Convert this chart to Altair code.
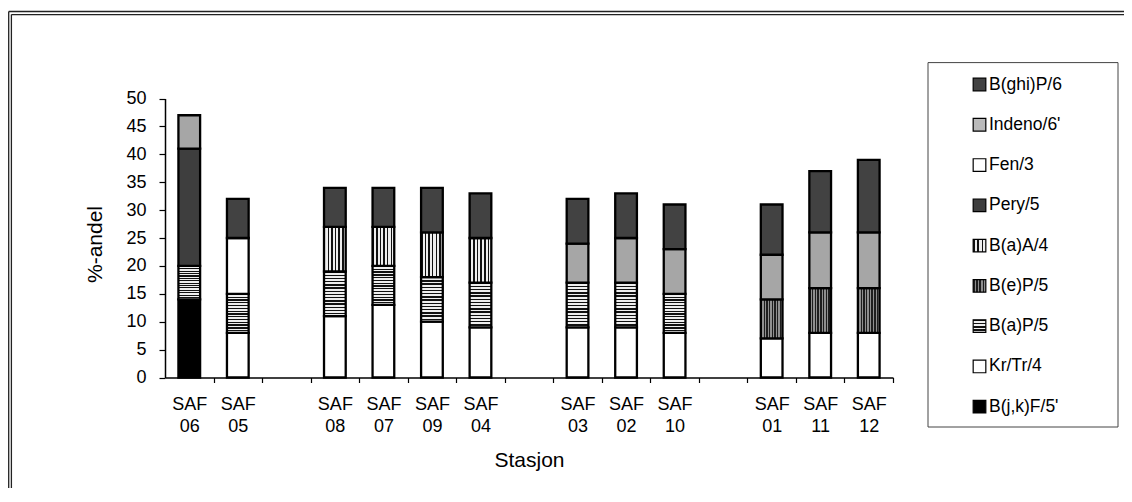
import altair as alt
import pandas as pd

# ---------------- data ----------------
x_domain = ["SAF 06", "SAF 05", " ", "SAF 08", "SAF 07", "SAF 09", "SAF 04", "  ",
            "SAF 03", "SAF 02", "SAF 10", "   ", "SAF 01", "SAF 11", "SAF 12"]
stations = ["SAF 06", "SAF 05", "SAF 08", "SAF 07", "SAF 09", "SAF 04",
            "SAF 03", "SAF 02", "SAF 10", "SAF 01", "SAF 11", "SAF 12"]

# stacking order, bottom -> top
series = ["B(j,k)F/5'", "Kr/Tr/4", "B(a)P/5", "B(e)P/5", "B(a)A/4",
          "Pery/5", "Fen/3", "Indeno/6'", "B(ghi)P/6"]

bjkf   = [14, 0, 0, 0, 0, 0, 0, 0, 0, 0, 0, 0]
krtr   = [0, 8, 11, 13, 10, 9, 9, 9, 8, 7, 8, 8]
bap    = [6, 7, 8, 7, 8, 8, 8, 8, 7, 0, 0, 0]
bep    = [0, 0, 0, 0, 0, 0, 0, 0, 0, 7, 8, 8]
baa    = [0, 0, 8, 7, 8, 8, 0, 0, 0, 0, 0, 0]
pery   = [21, 0, 0, 0, 0, 0, 0, 0, 0, 0, 0, 0]
fen    = [0, 10, 0, 0, 0, 0, 0, 0, 0, 0, 0, 0]
indeno = [6, 0, 0, 0, 0, 0, 7, 8, 8, 8, 10, 10]
bghip  = [0, 7, 7, 7, 8, 8, 8, 8, 8, 9, 11, 13]
all_vals = [bjkf, krtr, bap, bep, baa, pery, fen, indeno, bghip]

rows = []
for k, (s, vals) in enumerate(zip(series, all_vals)):
    for st, v in zip(stations, vals):
        if v > 0:
            rows.append({"station": st, "series": s, "k": k, "value": v})
df = pd.DataFrame(rows)

legend_df = pd.DataFrame({"series": series, "k": list(range(len(series)))})
legend_order = list(reversed(series))

# ---------------- styles ----------------
FONT = "Liberation Sans"
W, H = 1116, 480
X0, X1 = 157, 885          # plot extent (px)
Y0, Y50 = 369.5, 90.5      # y pixel for 0 and 50
P_IN, P_OUT = 0.553, 0.2765
STEP = (X1 - X0) / (len(x_domain) - P_IN + 2 * P_OUT)
TICK_OFF = P_OUT * STEP


def stripes(n, c_line, c_gap, direction, duty):
    stops = []
    for i in range(n):
        a = round(i / n, 4)
        b = round((i + duty) / n, 4)
        c = round((i + 1) / n, 4)
        stops += [{"offset": a, "color": c_line}, {"offset": b, "color": c_line},
                  {"offset": b, "color": c_gap}, {"offset": c, "color": c_gap}]
    g = {"gradient": "linear", "stops": stops}
    if direction == "v":
        g.update({"x1": 0, "y1": 0, "x2": 1, "y2": 0})
    else:
        g.update({"x1": 0, "y1": 0, "x2": 0, "y2": 1})
    return g


FILL_BAR = ["black", "white",
            stripes(14, "#111111", "#eeeeee", "h", 0.45),
            stripes(8, "#1e1e1e", "#8f8f8f", "v", 0.5),
            stripes(6, "#111111", "#eeeeee", "v", 0.4),
            "#3e3e3e", "white", "#a6a6a6", "#424242"]
FILL_LEG = ["black", "white",
            stripes(4, "#111111", "#eeeeee", "h", 0.45),
            stripes(4, "#1e1e1e", "#8f8f8f", "v", 0.5),
            stripes(3, "#111111", "#eeeeee", "v", 0.4),
            "#3e3e3e", "white", "#bababa", "#424242"]


def fill_enc(fills):
    return {"condition": [{"test": f"datum.k === {k}", "value": fills[k]}
                          for k in range(1, len(fills))],
            "value": fills[0]}


# ---------------- bars ----------------
bars = alt.Chart(df).transform_stack(
    stack="value", groupby=["station"], as_=["y0", "y1"],
    sort=[alt.SortField("k", order="ascending")]
).mark_bar(stroke="black", strokeWidth=2.3).encode(
    x=alt.X("station:N",
            scale=alt.Scale(domain=x_domain, range=[X0, X1],
                            paddingInner=P_IN, paddingOuter=P_OUT),
            axis=alt.Axis(
                title="Stasjon", orient="bottom", offset=-(H - Y0),
                domainColor="black", domainWidth=1.5,
                ticks=True, tickColor="black", tickWidth=1.2, tickSize=5,
                bandPosition=1, tickOffset=TICK_OFF, labelOffset=-TICK_OFF,
                labelExpr="trim(datum.value) == '' ? '' : [substring(datum.value, 0, 3), substring(datum.value, 4)]",
                labelFont=FONT, labelFontSize=18, labelColor="black",
                labelBaseline="alphabetic", labelPadding=26.8, labelLineHeight=22.7,
                labelAngle=0, labelOverlap=False,
                titleFont=FONT, titleFontSize=21, titleFontWeight="normal",
                titleColor="black", titleBaseline="alphabetic", titleY=89.2,
                grid=False)),
    y=alt.Y("y0:Q",
            scale=alt.Scale(domain=[0, 50], range=[Y0, Y50], nice=False, zero=True),
            axis=alt.Axis(
                title="%-andel", values=list(range(0, 51, 5)), offset=-X0,
                domainColor="black", domainWidth=1.5,
                tickColor="black", tickWidth=1.2, tickSize=6,
                labelFont=FONT, labelFontSize=18, labelColor="black", labelPadding=13,
                titleFont=FONT, titleFontSize=21, titleFontWeight="normal",
                titleColor="black", titleBaseline="alphabetic", titleAngle=270,
                titleAlign="center", titleX=-63.3, titleY=236,
                grid=False)),
    y2="y1:Q",
    fill=fill_enc(FILL_BAR),
)

# ---------------- legend ----------------
one = pd.DataFrame({"a": [0]})
legend_box = alt.Chart(one).mark_rect(fill="white", stroke="#444444", strokeWidth=1).encode(
    x=alt.value(920), x2=alt.value(1110), y=alt.value(54.6), y2=alt.value(419))

leg_y = alt.Y("series:N", scale=alt.Scale(type="point", domain=legend_order,
                                          range=[76.5, 398.7], padding=0), axis=None)
legend_sym = alt.Chart(legend_df).mark_square(
    size=160, filled=True, opacity=1, stroke="black", strokeWidth=1.2
).encode(x=alt.value(971.5), y=leg_y, fill=fill_enc(FILL_LEG))

legend_txt = alt.Chart(legend_df).mark_text(
    align="left", baseline="middle", font=FONT, fontSize=17.5, color="black"
).encode(x=alt.value(981), y=leg_y, text="series:N")

# ---------------- frame (double line, left & top) ----------------
fc = "#222222"
frame = [
    alt.Chart(one).mark_rule(color=fc, strokeWidth=1.3).encode(
        x=alt.value(0.7), y=alt.value(3.5), y2=alt.value(H)),
    alt.Chart(one).mark_rule(color=fc, strokeWidth=1.3).encode(
        x=alt.value(3.4), y=alt.value(6.6), y2=alt.value(H)),
    alt.Chart(one).mark_rule(color=fc, strokeWidth=1.3).encode(
        x=alt.value(0.7), x2=alt.value(W), y=alt.value(3.5)),
    alt.Chart(one).mark_rule(color=fc, strokeWidth=1.3).encode(
        x=alt.value(3.4), x2=alt.value(W), y=alt.value(6.6)),
]

chart = alt.layer(*frame, legend_box, bars, legend_sym, legend_txt).resolve_scale(
    y="independent"
).properties(
    width=W, height=H, padding=0,
    autosize=alt.AutoSizeParams(type="none"),
    background="white",
).configure_view(stroke="transparent")

chart.save("out.html", embed_options={"renderer": "svg", "actions": False})
